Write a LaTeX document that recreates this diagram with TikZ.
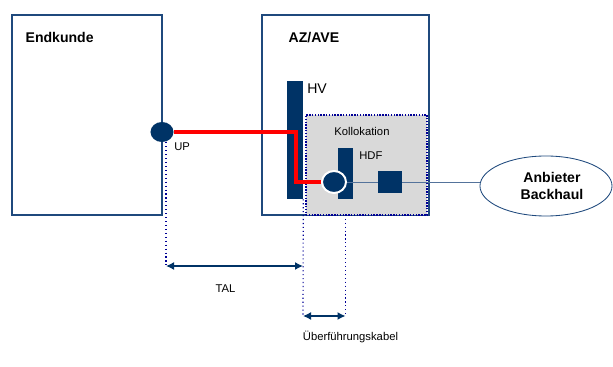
\documentclass[tikz,border=0pt]{standalone}
\usepackage{fontspec}
\setmainfont{Liberation Sans}
\usepackage{tikz}
\usetikzlibrary{arrows.meta, positioning, shapes.geometric}
\usepackage{xcolor}
\definecolor{navy}{RGB}{0,51,102}
\definecolor{boxblue}{RGB}{31,73,125}
\definecolor{dotblue}{RGB}{0,0,150}
\definecolor{kollgray}{RGB}{217,217,217}
\definecolor{linkblue}{RGB}{84,115,155}

\begin{document}
\begin{tikzpicture}[
    x=0.025cm, y=-0.025cm,
    site/.style={draw=boxblue, line width=0.9pt, fill=white, minimum height=5cm, inner sep=0pt},
    title/.style={font=\fontsize{10}{12}\selectfont\bfseries, anchor=west, inner sep=0pt},
    small/.style={font=\fontsize{8}{9.6}\selectfont, inner sep=0pt},
    bar/.style={fill=navy, draw=none, minimum width=0.4cm, inner sep=0pt},
    port/.style={ellipse, fill=navy, inner sep=0pt},
    redline/.style={draw=red, line width=2.8pt},
    link/.style={draw=linkblue, line width=0.7pt},
    guide/.style={draw=dotblue, dotted, line width=0.8pt},
    dim/.style={{Latex[length=2mm,width=2mm]}-{Latex[length=2mm,width=2mm]}, draw=navy, line width=1pt},
    >=Latex
]
\useasboundingbox (0,0) rectangle (613,367);

% Endkunde (left)
\node[site, minimum width=3.75cm] (endkunde) at (87,115) {};
\node[title] at ([xshift=0.35cm, yshift=-0.575cm] endkunde.north west) {Endkunde};

% AZ/AVE (middle)
\node[site, minimum width=4.175cm] (azave) at (345.5,115) {};
\node[title] at ([xshift=0.675cm, yshift=-0.575cm] azave.north west) {AZ/AVE};
\node[bar, minimum height=2.95cm] (hv) at (295,140) {};
\node[font=\fontsize{10}{12}\selectfont, anchor=west, inner sep=0pt] at (307,89) {HV};

% Kollokation
\node[draw=dotblue, densely dotted, line width=1pt, fill=kollgray, minimum width=3.025cm, minimum height=2.5cm, inner sep=0pt] (koll) at (366.5,165) {};
\node[small] at (362,131) {Kollokation};
\node[bar, minimum width=0.375cm, minimum height=1.275cm] (hdf) at (345.5,173.5) {};
\node[small, anchor=west] at (359,156) {HDF};
\node[port, draw=white, line width=1.4pt, minimum width=0.6cm, minimum height=0.55cm] (hdfport) at (334,182) {};
\node[fill=navy, minimum width=0.6cm, minimum height=0.55cm, inner sep=0pt] (backhaulport) at (390,182) {};

% Anbieter Backhaul (right)
\node[ellipse, draw=boxblue, line width=0.6pt, minimum width=3.3cm, minimum height=1.5cm, inner sep=0pt] (backhaul) at (546,186) {};
\node[font=\fontsize{10}{12.4}\selectfont\bfseries, align=center, inner sep=0pt] at (552,186) {Anbieter\\Backhaul};

% UP
\node[port, minimum width=0.575cm, minimum height=0.5cm] (up) at (162,132) {};
\node[small, anchor=west] at (174,147) {UP};

% Lines
\coordinate (bend) at (296,182);
\draw[redline] (up.east) -| (bend) -- (hdfport.west);
\draw[link] (hdfport.east) -- (backhaulport.west);
\draw[link] (backhaulport.east) -- (backhaulport.east -| backhaul.west);

% Dimensions
\coordinate (talL) at (166,266);
\coordinate (talR) at (303,266);
\coordinate (ueL) at (303,316);
\coordinate (ueR) at (345.5,316);
\draw[guide] (up.south -| talL) -- (talL);
\draw[guide] (hv.south east) -- (ueL);
\draw[guide] (hdf.south |- koll.south) ++(0,3) -- (ueR);
\draw[dim] (talL) -- (talR);
\draw[dim] (ueL) -- (ueR);
\node[small] at (225.5,289) {TAL};
\node[small] at (350.5,337) {Überführungskabel};

\end{tikzpicture}
\end{document}
